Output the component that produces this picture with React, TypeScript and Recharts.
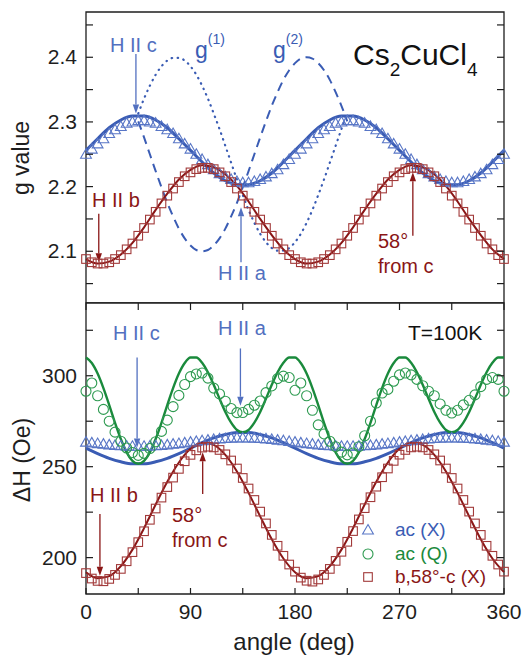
import React from 'react';
import { ComposedChart, Line, Scatter, XAxis, YAxis, ReferenceArea, ReferenceLine } from 'recharts';

// ---------- categories (angles, deg) ----------
const ANG5 = [0,5,10,15,20,25,30,35,40,45,50,55,60,65,70,75,80,85,90,95,100,105,110,115,120,125,130,135,140,145,150,155,160,165,170,175,180,185,190,195,200,205,210,215,220,225,230,235,240,245,250,255,260,265,270,275,280,285,290,295,300,305,310,315,320,325,330,335,340,345,350,355,360];
const ANG10 = [0,10,20,30,40,50,60,70,80,90,100,110,120,130,140,150,160,170,180,190,200,210,220,230,240,250,260,270,280,290,300,310,320,330,340,350,360];
const ANG_G = [45,50,55,60,65,70,75,80,85,90,95,100,105,110,115,120,125,130,135,140,145,150,155,160,165,170,175,180,185,190,195,200,205,210,215,220,225];

// ---------- top panel: g value ----------
const G_AC_X_FIT = [2.256,2.274,2.291,2.303,2.309,2.309,2.303,2.291,2.274,2.256,2.238,2.221,2.209,2.203,2.203,2.209,2.221,2.238,2.256,2.274,2.291,2.303,2.309,2.309,2.303,2.291,2.274,2.256,2.238,2.221,2.209,2.203,2.203,2.209,2.221,2.238,2.256];
const G_AC_X = [2.250,2.258,2.266,2.274,2.282,2.288,2.293,2.298,2.300,2.302,2.302,2.300,2.298,2.293,2.288,2.282,2.274,2.266,2.258,2.250,2.242,2.234,2.226,2.220,2.215,2.211,2.208,2.206,2.206,2.208,2.211,2.215,2.220,2.226,2.234,2.242,2.250,
  2.258,2.266,2.274,2.282,2.288,2.293,2.298,2.300,2.302,2.302,2.300,2.298,2.293,2.288,2.282,2.274,2.266,2.258,2.250,2.242,2.234,2.226,2.220,2.215,2.211,2.208,2.206,2.206,2.208,2.211,2.215,2.220,2.226,2.234,2.242,2.250];
const G_B58_FIT = [2.088,2.081,2.084,2.095,2.113,2.137,2.164,2.189,2.211,2.226,2.233,2.230,2.219,2.201,2.177,2.150,2.125,2.103,2.088,2.081,2.084,2.095,2.113,2.137,2.164,2.189,2.211,2.226,2.233,2.230,2.219,2.201,2.177,2.150,2.125,2.103,2.088];
const G_B58 = [2.088,2.083,2.081,2.081,2.083,2.088,2.094,2.103,2.112,2.124,2.136,2.149,2.161,2.174,2.186,2.197,2.207,2.216,2.222,2.227,2.229,2.229,2.227,2.222,2.216,2.207,2.197,2.186,2.174,2.161,2.149,2.136,2.124,2.112,2.103,2.094,2.088,
  2.083,2.081,2.081,2.083,2.088,2.094,2.103,2.112,2.124,2.136,2.149,2.161,2.174,2.186,2.197,2.207,2.216,2.222,2.227,2.229,2.229,2.227,2.222,2.216,2.207,2.197,2.186,2.174,2.161,2.149,2.136,2.124,2.112,2.103,2.094,2.088];
const G1 = [2.313,2.336,2.356,2.373,2.386,2.395,2.399,2.399,2.395,2.386,2.373,2.356,2.336,2.313,2.289,2.263,2.237,2.211,2.187,2.164,2.144,2.127,2.114,2.105,2.101,2.101,2.105,2.114,2.127,2.144,2.164,2.187,2.211,2.237,2.263,2.289,2.313];
const G2 = [2.301,2.276,2.250,2.224,2.199,2.175,2.154,2.135,2.120,2.109,2.102,2.100,2.102,2.109,2.120,2.135,2.154,2.175,2.199,2.224,2.250,2.276,2.301,2.325,2.346,2.365,2.380,2.391,2.398,2.400,2.398,2.391,2.380,2.365,2.346,2.325,2.301];

// ---------- bottom panel: linewidth (Oe) ----------
const H_AC_X_FIT = [260.2,257.2,254.6,252.7,251.6,251.6,252.7,254.6,257.2,260.2,263.2,265.8,267.7,268.8,268.8,267.7,265.8,263.2,260.2,257.2,254.6,252.7,251.6,251.6,252.7,254.6,257.2,260.2,263.2,265.8,267.7,268.8,268.8,267.7,265.8,263.2,260.2];
const H_AC_X = [263.5,263.1,262.7,262.4,262.0,261.7,261.5,261.3,261.2,261.2,261.2,261.3,261.5,261.7,262.0,262.4,262.7,263.1,263.5,263.9,264.3,264.6,265.0,265.3,265.5,265.7,265.8,265.8,265.8,265.7,265.5,265.3,265.0,264.6,264.3,263.9,263.5,
  263.1,262.7,262.4,262.0,261.7,261.5,261.3,261.2,261.2,261.2,261.3,261.5,261.7,262.0,262.4,262.7,263.1,263.5,263.9,264.3,264.6,265.0,265.3,265.5,265.7,265.8,265.8,265.8,265.7,265.5,265.3,265.0,264.6,264.3,263.9,263.5];
const H_AC_Q_FIT = [310.0,307.0,301.2,293.2,283.9,274.1,265.2,257.9,253.2,251.6,253.2,257.9,265.2,274.1,283.9,293.2,301.2,307.0,310.0,310.0,307.1,301.9,295.0,287.4,280.1,274.2,270.2,268.9,270.2,274.2,280.1,287.4,295.0,301.9,307.1,310.0,310.0,
  307.0,301.2,293.2,283.9,274.1,265.2,257.9,253.2,251.6,253.2,257.9,265.2,274.1,283.9,293.2,301.2,307.0,310.0,310.0,307.1,301.9,295.0,287.4,280.1,274.2,270.2,268.9,270.2,274.2,280.1,287.4,295.0,301.9,307.1,310.0,310.0];
const H_AC_Q = [291.5,296,289,281.5,275,269,264,260.3,257.8,256.2,257.3,260,263.7,269.4,275.6,283,289.2,295.2,299.5,301,301.5,298.7,293.2,290,286,282,279.7,279.8,281.5,283.8,286.1,290.7,294.4,298.4,299.8,299,292,
  296,289,281,273,268,264,261,258,256.5,257.5,261,267,275,285,290.5,292.5,297,300.5,301.5,300.5,298,294.5,291.5,289,284.5,281,279.5,281,284,286.5,289.5,294,298,299,298,291.5];
const H_B58_FIT = [192.0,188.7,189.8,195.3,204.4,216.2,229.2,241.7,252.3,259.8,263.2,262.0,256.5,247.4,235.6,222.7,210.1,199.5,192.0,188.7,189.8,195.3,204.4,216.2,229.2,241.7,252.3,259.8,263.2,262.0,256.5,247.4,235.6,222.7,210.1,199.5,192.0];
const H_B58 = [191.5,188.5,187.2,187.0,188.3,190.5,193.8,198,203,208.5,214.5,220.8,227,233,238.8,244,248.8,253,256.5,259,260.5,261,260.6,259.2,256.8,253.4,249,243.8,238,231.7,225.3,218.8,212.5,206.5,201,196.2,192.3,
  189,187.3,186.8,188,190.5,193.8,198.2,203.2,208.7,214.6,221,227.2,233.2,239,244.2,249,253.2,256.6,259.2,260.6,261,260.6,259.2,256.8,253.4,249,243.8,238,231.7,225.3,218.8,212.5,206.5,201,196.2,192.3];

// ---------- ticks ----------
const X_TICKS = [0,45,90,135,180,225,270,315,360];
const X_LABELED = [0,90,180,270,360];
const G_TICKS = [2.05,2.1,2.15,2.2,2.25,2.3,2.35,2.4,2.45];
const H_TICKS = [200,225,250,275,300,325];
const H_LABELED = [200,250,300];

const G_DOMAIN = [2.02, 2.47];
const H_DOMAIN = [180, 340];

const pts = (xs: number[], ys: number[]) => xs.map((x, i) => ({ x, y: ys[i] }));

const BLUE = '#3a5cb4';
const BLUE_MK = '#5876c6';
const BLUE_AR = '#5270c0';
const RED = '#8a1616';
const RED_MK = '#a23a3a';
const GREEN = '#1a8a3c';
const GREEN_MK = '#2d9a50';
const INK = '#1e1e1e';
const FONT = '"Liberation Sans", Arial, Helvetica, sans-serif';

const PW = 418; // plot width
const PH = 291; // plot height

const Tri = (p: any) => {
  const { cx, cy } = p;
  if (cx == null || cy == null) return null;
  return <path d={`M${cx},${cy - 5.5} L${cx + 5.4},${cy + 4} L${cx - 5.4},${cy + 4} Z`} fill="none" stroke={BLUE_MK} strokeWidth={1.1} />;
};
const Sq = (p: any) => {
  const { cx, cy } = p;
  if (cx == null || cy == null) return null;
  return <rect x={cx - 4.3} y={cy - 4.3} width={8.6} height={8.6} fill="none" stroke={RED_MK} strokeWidth={1.1} />;
};
const Circ = (p: any) => {
  const { cx, cy } = p;
  if (cx == null || cy == null) return null;
  return <circle cx={cx} cy={cy} r={5} fill="none" stroke={GREEN_MK} strokeWidth={1.1} />;
};

const arrow = (color: string) => (p: any) => {
  const { x1, y1, x2, y2 } = p;
  const dx = x2 - x1, dy = y2 - y1;
  const len = Math.hypot(dx, dy) || 1;
  const ux = dx / len, uy = dy / len;
  const hl = 9, hw = 3.2;
  const bx = x2 - ux * hl, by = y2 - uy * hl;
  return (
    <g>
      <line x1={x1} y1={y1} x2={bx} y2={by} stroke={color} strokeWidth={1.3} />
      <polygon points={`${x2},${y2} ${bx - uy * hw},${by + ux * hw} ${bx + uy * hw},${by - ux * hw}`} fill={color} />
    </g>
  );
};

const GTick = (p: any) => {
  const { x, y, payload } = p;
  const v = payload.value;
  const major = Math.abs(v * 10 - Math.round(v * 10)) < 1e-6;
  return (
    <g>
      <line x1={x} x2={x + 7} y1={y} y2={y} stroke={INK} strokeWidth={1.2} />
      <line x1={x + PW} x2={x + PW - 7} y1={y} y2={y} stroke={INK} strokeWidth={1.2} />
      {major && (
        <text x={x - 9} y={y + 7} textAnchor="end" fontSize={21} fill={INK} fontFamily={FONT}>{v.toFixed(1)}</text>
      )}
    </g>
  );
};

const HTick = (p: any) => {
  const { x, y, payload } = p;
  const v = payload.value;
  const major = H_LABELED.includes(v);
  return (
    <g>
      <line x1={x} x2={x + 7} y1={y} y2={y} stroke={INK} strokeWidth={1.2} />
      <line x1={x + PW} x2={x + PW - 7} y1={y} y2={y} stroke={INK} strokeWidth={1.2} />
      {major && (
        <text x={x - 9} y={y + 7} textAnchor="end" fontSize={21} fill={INK} fontFamily={FONT}>{v}</text>
      )}
    </g>
  );
};

const BottomXTick = (p: any) => {
  const { x, y, payload } = p;
  const v = payload.value;
  return (
    <g>
      <line x1={x} x2={x} y1={y} y2={y - 6} stroke={INK} strokeWidth={1.2} />
      <line x1={x} x2={x} y1={y - PH} y2={y - PH + 7} stroke={INK} strokeWidth={1.2} />
      {X_LABELED.includes(v) && (
        <text x={x} y={y + 25} textAnchor="middle" fontSize={21} fill={INK} fontFamily={FONT}>{v}</text>
      )}
    </g>
  );
};

const TopXTick = () => null;

export default function App() {
  const triG = pts(ANG5, G_AC_X);
  const sqG = pts(ANG5, G_B58);
  const fitGX = pts(ANG10, G_AC_X_FIT);
  const fitGB = pts(ANG10, G_B58_FIT);
  const g1 = pts(ANG_G, G1);
  const g2 = pts(ANG_G, G2);

  const triH = pts(ANG5, H_AC_X);
  const circH = pts(ANG5, H_AC_Q);
  const sqH = pts(ANG5, H_B58);
  const fitHX = pts(ANG10, H_AC_X_FIT);
  const fitHQ = pts(ANG5, H_AC_Q_FIT);
  const fitHB = pts(ANG10, H_B58_FIT);

  return (
    <div style={{ position: 'absolute', left: 0, top: 0, width: 523, height: 658, background: '#fff', fontFamily: FONT }}>
      <div style={{ position: 'absolute', left: 0, top: 0 }}>
        <ComposedChart width={523} height={303} margin={{ top: 12, right: 19, bottom: 0, left: 0 }}>
          <XAxis type="number" dataKey="x" domain={[0, 360]} ticks={X_TICKS} height={0} tick={TopXTick} tickLine={false} axisLine={false} tickSize={0} tickMargin={0} interval={0} />
          <YAxis type="number" dataKey="y" domain={G_DOMAIN} ticks={G_TICKS} width={86} tick={GTick} tickLine={false} axisLine={false} tickSize={0} tickMargin={0} interval={0} />
          <ReferenceArea x1={0} x2={360} y1={G_DOMAIN[0]} y2={G_DOMAIN[1]} fill="none" fillOpacity={0} stroke={INK} strokeWidth={1.3} ifOverflow="visible" />
          <Scatter data={triG} shape={Tri} isAnimationActive={false} />
          <Scatter data={sqG} shape={Sq} isAnimationActive={false} />
          <Line data={g1} dataKey="y" type="monotone" dot={false} stroke={BLUE} strokeWidth={2.2} strokeDasharray="0.5 5.5" strokeLinecap="round" isAnimationActive={false} />
          <Line data={g2} dataKey="y" type="monotone" dot={false} stroke={BLUE} strokeWidth={2} strokeDasharray="9 6" isAnimationActive={false} />
          <Line data={fitGX} dataKey="y" type="monotone" dot={false} stroke={BLUE} strokeWidth={3} isAnimationActive={false} />
          <Line data={fitGB} dataKey="y" type="monotone" dot={false} stroke={RED} strokeWidth={2} isAnimationActive={false} />
          <ReferenceLine segment={[{ x: 43, y: 2.405 }, { x: 43, y: 2.313 }]} shape={arrow(BLUE_AR)} ifOverflow="visible" />
          <ReferenceLine segment={[{ x: 11, y: 2.158 }, { x: 11, y: 2.083 }]} shape={arrow(RED)} ifOverflow="visible" />
          <ReferenceLine segment={[{ x: 133.5, y: 2.083 }, { x: 133.5, y: 2.168 }]} shape={arrow(BLUE_AR)} ifOverflow="visible" />
          <ReferenceLine segment={[{ x: 281.5, y: 2.124 }, { x: 281.5, y: 2.222 }]} shape={arrow(RED)} ifOverflow="visible" />
          <text x={110} y={52} fill={BLUE_AR} fontSize={20} fontFamily={FONT}>H II c</text>
          <text x={195} y={58} fill={BLUE} fontSize={23} fontFamily={FONT}>g<tspan fontSize={14} dy={-14}>(1)</tspan></text>
          <text x={273} y={58} fill={BLUE} fontSize={23} fontFamily={FONT}>g<tspan fontSize={14} dy={-14}>(2)</tspan></text>
          <text x={353} y={65} fill="#111" fontSize={30} fontFamily={FONT}>Cs<tspan fontSize={19} dy={11}>2</tspan><tspan dy={-11}>CuCl</tspan><tspan fontSize={19} dy={11}>4</tspan></text>
          <text x={92} y={207} fill={RED} fontSize={20} fontFamily={FONT}>H II b</text>
          <text x={218} y={280} fill={BLUE_AR} fontSize={20} fontFamily={FONT}>H II a</text>
          <text x={378} y={248} fill={RED} fontSize={20} fontFamily={FONT}>58°</text>
          <text x={378} y={273} fill={RED} fontSize={20} fontFamily={FONT}>from c</text>
          <text x={29} y={158} transform="rotate(-90, 29, 158)" textAnchor="middle" fill={INK} fontSize={23} fontFamily={FONT}>g value</text>
        </ComposedChart>
      </div>
      <div style={{ position: 'absolute', left: 0, top: 290 }}>
        <ComposedChart width={523} height={368} margin={{ top: 13, right: 19, bottom: 0, left: 0 }}>
          <XAxis type="number" dataKey="x" domain={[0, 360]} ticks={X_TICKS} height={64} tick={BottomXTick} tickLine={false} axisLine={false} tickSize={0} tickMargin={0} interval={0} />
          <YAxis type="number" dataKey="y" domain={H_DOMAIN} ticks={H_TICKS} width={86} tick={HTick} tickLine={false} axisLine={false} tickSize={0} tickMargin={0} interval={0} />
          <ReferenceArea x1={0} x2={360} y1={H_DOMAIN[0]} y2={H_DOMAIN[1]} fill="none" fillOpacity={0} stroke={INK} strokeWidth={1.3} ifOverflow="visible" />
          <Scatter data={triH} shape={Tri} isAnimationActive={false} />
          <Scatter data={circH} shape={Circ} isAnimationActive={false} />
          <Scatter data={sqH} shape={Sq} isAnimationActive={false} />
          <Line data={fitHX} dataKey="y" type="monotone" dot={false} stroke={BLUE} strokeWidth={3} isAnimationActive={false} />
          <Line data={fitHQ} dataKey="y" type="monotone" dot={false} stroke={GREEN} strokeWidth={2.4} isAnimationActive={false} />
          <Line data={fitHB} dataKey="y" type="monotone" dot={false} stroke={RED} strokeWidth={2} isAnimationActive={false} />
          <ReferenceLine segment={[{ x: 44, y: 310 }, { x: 44, y: 260.5 }]} shape={arrow(BLUE_AR)} ifOverflow="visible" />
          <ReferenceLine segment={[{ x: 133, y: 315 }, { x: 133, y: 283.5 }]} shape={arrow(BLUE_AR)} ifOverflow="visible" />
          <ReferenceLine segment={[{ x: 12, y: 224 }, { x: 12, y: 190 }]} shape={arrow(RED)} ifOverflow="visible" />
          <ReferenceLine segment={[{ x: 100.5, y: 235 }, { x: 100.5, y: 258 }]} shape={arrow(RED)} ifOverflow="visible" />
          <text x={113} y={50} fill={BLUE_AR} fontSize={20} fontFamily={FONT}>H II c</text>
          <text x={218} y={45} fill={BLUE_AR} fontSize={20} fontFamily={FONT}>H II a</text>
          <text x={408} y={50} fill="#111" fontSize={21} fontFamily={FONT}>T=100K</text>
          <text x={90} y={212} fill={RED} fontSize={20} fontFamily={FONT}>H II b</text>
          <text x={172} y={232} fill={RED} fontSize={20} fontFamily={FONT}>58°</text>
          <text x={172} y={257} fill={RED} fontSize={20} fontFamily={FONT}>from c</text>
          <path d="M368,234.5 L373.4,244 L362.6,244 Z" fill="none" stroke={BLUE_MK} strokeWidth={1.1} />
          <circle cx={368} cy={264} r={5} fill="none" stroke={GREEN_MK} strokeWidth={1.1} />
          <rect x={363.7} y={282.7} width={8.6} height={8.6} fill="none" stroke={RED_MK} strokeWidth={1.1} />
          <text x={395} y={246} fill={BLUE} fontSize={19} fontFamily={FONT}>ac (X)</text>
          <text x={395} y={270} fill={GREEN} fontSize={19} fontFamily={FONT}>ac (Q)</text>
          <text x={395} y={293} fill={RED} fontSize={19} fontFamily={FONT}>b,58°-c (X)</text>
          <text x={30} y={170} transform="rotate(-90, 30, 170)" textAnchor="middle" fill={INK} fontSize={23} fontFamily={FONT}>ΔH (Oe)</text>
          <text x={294} y={360} textAnchor="middle" fill={INK} fontSize={24} fontFamily={FONT}>angle (deg)</text>
        </ComposedChart>
      </div>
    </div>
  );
}
